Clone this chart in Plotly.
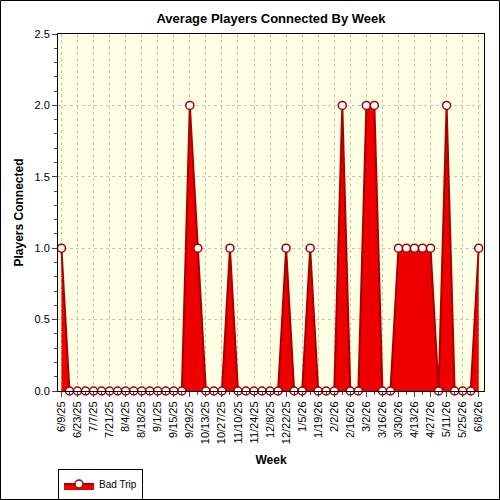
import plotly.graph_objects as go

# weekly dates (Mondays), 6/9/25 .. 6/8/26
weeks = [
    "2025-06-09", "2025-06-16", "2025-06-23", "2025-06-30", "2025-07-07",
    "2025-07-14", "2025-07-21", "2025-07-28", "2025-08-04", "2025-08-11",
    "2025-08-18", "2025-08-25", "2025-09-01", "2025-09-08", "2025-09-15",
    "2025-09-22", "2025-09-29", "2025-10-06", "2025-10-13", "2025-10-20",
    "2025-10-27", "2025-11-03", "2025-11-10", "2025-11-17", "2025-11-24",
    "2025-12-01", "2025-12-08", "2025-12-15", "2025-12-22", "2025-12-29",
    "2026-01-05", "2026-01-12", "2026-01-19", "2026-01-26", "2026-02-02",
    "2026-02-09", "2026-02-16", "2026-02-23", "2026-03-02", "2026-03-09",
    "2026-03-16", "2026-03-23", "2026-03-30", "2026-04-06", "2026-04-13",
    "2026-04-20", "2026-04-27", "2026-05-04", "2026-05-11", "2026-05-18",
    "2026-05-25", "2026-06-01", "2026-06-08",
]

bad_trip = [
    1, 0, 0, 0, 0, 0, 0, 0, 0, 0,
    0, 0, 0, 0, 0, 0, 2, 1, 0, 0,
    0, 1, 0, 0, 0, 0, 0, 0, 1, 0,
    0, 1, 0, 0, 0, 2, 0, 0, 2, 2,
    0, 0, 1, 1, 1, 1, 1, 0, 2, 0,
    0, 0, 1,
]

series_name = "Bad Trip"

fig = go.Figure()

fig.add_trace(go.Scatter(
    x=weeks,
    y=bad_trip,
    name=series_name,
    mode="lines+markers",
    fill="tozeroy",
    fillcolor="#EE0000",
    line=dict(color="#A80000", width=2),
    marker=dict(symbol="circle", size=8, color="white",
                line=dict(color="#A00000", width=1.5)),
    cliponaxis=False,
))

# outer frame of the picture
fig.add_shape(type="rect", xref="paper", yref="paper",
              x0=-57.5 / 426, x1=1 + 15.5 / 426,
              y0=-108.5 / 357, y1=1 + 33.5 / 357,
              line=dict(color="black", width=1), layer="below")

fig.update_layout(
    width=500,
    height=500,
    margin=dict(l=58, r=16, t=34, b=109, autoexpand=False),
    paper_bgcolor="white",
    plot_bgcolor="#FFFFE4",
    font=dict(family="Liberation Sans, Arial, sans-serif", size=11, color="black"),
    title=dict(text="<b>Average Players Connected By Week</b>",
               x=(58 + 213) / 500, xanchor="center",
               yref="container", y=1 - 18 / 500, yanchor="middle",
               font=dict(size=13)),
    showlegend=True,
    legend=dict(xref="container", yref="container",
                x=58 / 500, y=1 - 484 / 500, xanchor="left", yanchor="middle",
                orientation="h", bordercolor="black", borderwidth=1,
                bgcolor="white", font=dict(size=10),
                itemwidth=30, tracegroupgap=0),
    xaxis=dict(
        type="date",
        automargin=False,
        range=["2025-06-06", "2026-06-12 15:00"],
        tick0="2025-06-09",
        dtick=14 * 86400000,
        tickformat="%-m/%-d/%y",
        tickangle=-90,
        ticks="outside",
        ticklen=5,
        minor=dict(dtick=7 * 86400000, tick0="2025-06-09", ticks="outside",
                   ticklen=3, showgrid=False),
        showgrid=True,
        gridcolor="#C4C4C4",
        griddash="dot",
        gridwidth=1,
        showline=True,
        linecolor="black",
        linewidth=1,
        mirror=True,
        zeroline=False,
        title=dict(text="<b>Week</b>", font=dict(size=12), standoff=12),
    ),
    yaxis=dict(
        automargin=False,
        range=[0, 2.5],
        dtick=0.5,
        tickformat=".1f",
        ticks="outside",
        ticklen=5,
        minor=dict(dtick=0.1, ticks="outside", ticklen=3, showgrid=False),
        showgrid=True,
        gridcolor="#C4C4C4",
        griddash="dot",
        gridwidth=1,
        showline=True,
        linecolor="black",
        linewidth=1,
        mirror=True,
        zeroline=False,
        title=dict(text="<b>Players Connected</b>", font=dict(size=12), standoff=8),
    ),
)

# drop the page's default body margin so the 500x500 figure fills the window
fig.write_html("out.html",
               config={"displayModeBar": False},
               post_script="document.body.style.margin='0';")
